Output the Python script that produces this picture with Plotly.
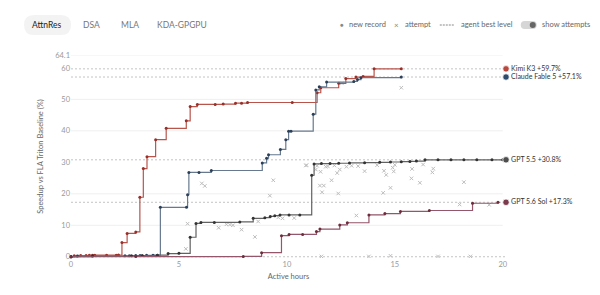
import plotly.graph_objects as go

# ---------------- data ----------------
kimi_h = [0, 0.15, 0.45, 0.7, 0.85, 1.0, 1.1, 1.65, 2.1, 2.2, 2.36, 2.6, 3.0, 3.19, 3.35, 3.52, 3.92, 4.41,
          5.34, 5.52, 5.85, 6.68, 7.05, 7.62, 7.9, 8.18, 10.25, 11.4, 11.57, 12.4, 12.73, 13.2, 13.53, 14.04, 15.3]
kimi_v = [0, 0.3, 0.4, 0.4, 0.45, 0.45, 0.5, 0.5, 0.5, 0.55, 4.5, 7.4, 7.9, 18.9, 28.0, 31.8, 37.2, 40.8,
          43.2, 47.7, 48.4, 48.4, 48.5, 48.8, 48.8, 49.0, 49.0, 52.1, 53.7, 55.1, 56.6, 57.1, 57.3, 59.7, 59.7]

claude_h = [0, 0.3, 2.5, 2.7, 3.0, 3.2, 3.5, 3.8, 4.0, 4.14, 5.35, 5.4, 5.46, 5.93, 6.5, 8.86, 9.06, 9.15,
            9.7, 9.95, 10.08, 10.19, 11.22, 11.34, 11.5, 11.84, 13.1, 13.27, 13.43, 15.3]
claude_v = [0, 0.2, 0.3, 0.35, 0.4, 0.4, 0.45, 0.5, 0.5, 15.7, 15.7, 19.7, 26.8, 26.8, 27.4, 29.8, 31.3, 32.4,
            34.1, 37.2, 39.9, 39.9, 45.3, 53.0, 54.0, 55.5, 55.7, 56.3, 56.9, 57.1]

gpt55_h = [0, 1.0, 2.8, 3.3, 4.0, 4.5, 5.0, 5.52, 5.79, 6.02, 6.64, 7.82, 8.44, 8.98, 9.23, 9.44, 9.68,
           10.1, 10.6, 11.15, 11.26, 11.6, 12.0, 12.4, 12.9, 13.6, 14.3, 14.8, 15.3, 15.7, 16.0, 16.4,
           17.0, 17.6, 18.2, 18.8, 19.5, 20.0]
gpt55_v = [0, 0.2, 0.3, 0.4, 0.5, 1.0, 1.1, 6.2, 10.6, 10.9, 10.9, 11.05, 12.2, 12.4, 12.8, 13.06, 13.3,
           13.3, 13.3, 25.9, 29.5, 29.6, 29.6, 29.7, 29.8, 29.9, 30.0, 30.1, 30.2, 30.3, 30.4, 30.8,
           30.8, 30.8, 30.8, 30.8, 30.8, 30.8]

sol_h = [0, 3.0, 7.98, 8.83, 9.75, 10.1, 10.73, 11.37, 11.53, 12.45, 12.8, 13.8, 14.54, 15.26, 16.6, 18.6, 19.78]
sol_v = [0, 0.05, 0.1, 1.3, 6.7, 7.1, 7.1, 8.0, 8.8, 10.1, 10.8, 13.3, 13.7, 14.4, 14.7, 17.0, 17.3]

att_h = [5.32, 5.4, 6.06, 6.2, 6.84, 7.2, 7.36, 7.9, 8.52, 8.67, 9.21, 9.37, 10.34, 10.88, 10.91, 11.34,
         11.56, 11.53, 11.71, 11.63, 11.8, 12.07, 12.33, 12.38, 12.45, 12.76, 13.0, 13.6, 14.18, 14.5,
         14.6, 14.46, 14.8, 14.9, 14.95, 15.8, 15.77, 16.16, 16.31, 16.78, 16.74, 18.2, 13.22, 18.0,
         19.37, 15.3, 12.55, 11.4, 11.9, 12.2, 13.3, 15.0, 9.6, 9.8, 7.5, 11.6, 13.8, 14.8, 17.0, 18.5]
att_v = [2.5, 10.5, 23.3, 22.5, 9.2, 10.3, 10.2, 8.6, 6.3, 11.2, 19.4, 24.3, 12.3, 29.0, 29.1, 27.7,
         27.0, 22.6, 22.6, 20.5, 28.6, 24.3, 26.6, 20.1, 27.7, 28.6, 28.9, 27.2, 29.1, 27.3, 26.0, 20.3,
         21.9, 28.3, 27.1, 27.9, 24.9, 23.5, 29.3, 28.0, 26.8, 23.7, 13.1, 16.6, 16.5, 53.7, 55.1, 28.9,
         28.7, 29.0, 28.8, 29.2, 12.5, 12.2, 10.0, 0.1, 0.1, 0.3, 0.1, 0.1]

series_names = ["Kimi K3", "Claude Fable 5", "GPT 5.5", "GPT 5.6 Sol"]
series_best = [59.7, 57.1, 30.8, 17.3]
series_h = [kimi_h, claude_h, gpt55_h, sol_h]
series_v = [kimi_v, claude_v, gpt55_v, sol_v]
label_x = 20.15

tabs = ["AttnRes", "DSA", "MLA", "KDA-GPGPU"]
ytick_vals = [0, 10, 20, 30, 40, 50, 60, 64.1]
ytick_text = ["0", "10", "20", "30", "40", "50", "60", "64.1"]
xtick_vals = [0, 5, 10, 15, 20]

# ---------------- styles ----------------
line_cols = ["#b8554b", "#66798e", "#626262", "#93566a"]
mark_cols = ["#9a2e28", "#2b3f58", "#333333", "#6c2c3c"]
dot_cols = ["#b8473d", "#2e4a6c", "#4e4e4e", "#7c3b4c"]
FONT = "Lato"

W, H = 600, 295
L, T, B = 71, 55, 37
PW20 = 432                       # pixels spanning 0..20 hours
XMAX = label_x
PW = PW20 * XMAX / 20
R = W - L - PW
PH = H - T - B


def px(x):
    return (x - L) / PW


def py(y):
    return (H - B - y) / PH


fig = go.Figure()

# attempts
fig.add_trace(go.Scatter(x=att_h, y=att_v, mode="markers",
                         marker=dict(symbol="x-thin", size=3.5, line=dict(width=1, color="#bdbdbd")),
                         hoverinfo="skip", showlegend=False))

for i in range(4):
    fig.add_trace(go.Scatter(x=series_h[i], y=series_v[i], mode="lines+markers", line_shape="hv",
                             line=dict(color=line_cols[i], width=1.2),
                             marker=dict(size=3, color=mark_cols[i]),
                             showlegend=False, cliponaxis=False))

# end labels
fig.add_trace(go.Scatter(x=[label_x] * 4, y=series_best, mode="markers+text",
                         marker=dict(size=6.5, color=dot_cols, line=dict(width=0.8, color="white")),
                         text=[f"{n} +{b}%" for n, b in zip(series_names, series_best)],
                         textposition="middle right",
                         textfont=dict(family=FONT, size=7, color="#333"),
                         cliponaxis=False, showlegend=False))

shapes = []
# gridlines
for g in [10, 20, 40, 50, 64.1]:
    shapes.append(dict(type="line", xref="x", yref="y", x0=0, x1=20, y0=g, y1=g,
                       line=dict(color="#efefef", width=1), layer="below"))
# agent best level lines + baseline
for b in series_best + [0]:
    shapes.append(dict(type="line", xref="x", yref="y", x0=0, x1=label_x, y0=b, y1=b,
                       line=dict(color="#c4c4c4", width=1, dash="2px,2px"), layer="below"))


def pill(x0, y0, x1, y1, fill):
    r = (y1 - y0) / 2
    path = (f"M {px(x0 + r)} {py(y0)} L {px(x1 - r)} {py(y0)} "
            f"Q {px(x1)} {py(y0)} {px(x1)} {py(y0 + r)} Q {px(x1)} {py(y1)} {px(x1 - r)} {py(y1)} "
            f"L {px(x0 + r)} {py(y1)} Q {px(x0)} {py(y1)} {px(x0)} {py(y0 + r)} "
            f"Q {px(x0)} {py(y0)} {px(x0 + r)} {py(y0)} Z")
    return dict(type="path", xref="paper", yref="paper", path=path, fillcolor=fill,
                line=dict(width=0), layer="below")


shapes.append(pill(24, 15, 71, 35, "#f3f3f3"))
# toggle
shapes.append(pill(521, 21, 537, 29, "#d6d6d6"))
shapes.append(dict(type="circle", xref="paper", yref="paper", x0=px(530), x1=px(536), y0=py(22), y1=py(28),
                   fillcolor="#666", line=dict(width=0)))
# legend dashed sample
shapes.append(dict(type="line", xref="paper", yref="paper", x0=px(440), x1=px(455), y0=py(25), y1=py(25),
                   line=dict(color="#888", width=1, dash="2px,1px")))

ann = []
tab_x = [47, 92, 130, 182]
for t, x in zip(tabs, tab_x):
    ann.append(dict(text=t, x=px(x), y=py(25), xref="paper", yref="paper", showarrow=False,
                    xanchor="center", yanchor="middle",
                    font=dict(family=FONT, size=8.5, color="#222" if t == "AttnRes" else "#777")))
legend_items = [("●", 342, "#888", 6), ("new record", 347, "#666", 7.5), ("×", 397, "#888", 8),
                ("attempt", 403, "#666", 7.5), ("agent best level", 459, "#666", 7.5),
                ("show attempts", 540, "#666", 7.5)]
for t, x, c, s in legend_items:
    ann.append(dict(text=t, x=px(x), y=py(25), xref="paper", yref="paper", showarrow=False,
                    xanchor="left" if t not in ("●", "×") else "center", yanchor="middle",
                    font=dict(family=FONT, size=s, color=c)))

fig.update_layout(
    width=W, height=H, margin=dict(l=L, r=R, t=T, b=B),
    paper_bgcolor="white", plot_bgcolor="white",
    font=dict(family=FONT, color="#888"),
    shapes=shapes, annotations=ann,
    xaxis=dict(range=[0, XMAX], tickvals=xtick_vals, showgrid=False, zeroline=False, showline=False,
               ticks="", tickfont=dict(size=7.5, color="#999"),
               title=dict(text="Active hours", font=dict(size=7.5, color="#666"), standoff=6)),
    yaxis=dict(range=[-0.4, 64.1], tickvals=ytick_vals, ticktext=ytick_text, showgrid=False,
               zeroline=False, showline=False, ticks="", tickfont=dict(size=7.5, color="#999"),
               title=dict(text="Speedup vs FLA Triton Baseline (%)", font=dict(size=7.5, color="#666"),
                          standoff=10)),
)

fig.write_html("out.html")
